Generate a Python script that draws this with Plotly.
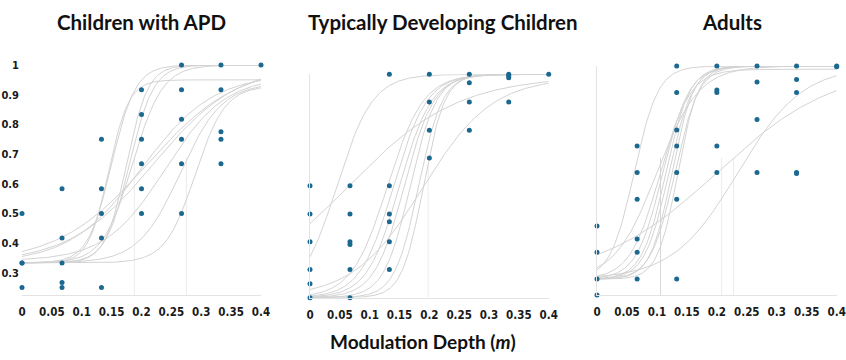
import numpy as np
import plotly.graph_objects as go

# ---------------- data ----------------
panel_titles = ["Children with APD", "Typically Developing Children", "Adults"]
x_tick_vals = [0, 0.05, 0.1, 0.15, 0.2, 0.25, 0.3, 0.35, 0.4]
x_tick_text = ["0", "0.05", "0.1", "0.15", "0.2", "0.25", "0.3", "0.35", "0.4"]
y_tick_vals = [0.3, 0.4, 0.5, 0.6, 0.7, 0.8, 0.9, 1.0]
y_tick_text = ["0.3", "0.4", "0.5", "0.6", "0.7", "0.8", "0.9", "1"]

# Panel 1: Children with APD - observed points
apd_x = [0, 0, 0, 0, 0,
         0.067, 0.067, 0.067, 0.067, 0.067,
         0.133, 0.133, 0.133, 0.133, 0.133,
         0.2, 0.2, 0.2, 0.2, 0.2, 0.2,
         0.267, 0.267, 0.267, 0.267, 0.267, 0.267,
         0.333, 0.333, 0.333, 0.333, 0.333,
         0.4]
apd_y = [0.5, 0.333, 0.25, 0.222, 0.333,
         0.583, 0.417, 0.333, 0.267, 0.25,
         0.75, 0.583, 0.5, 0.417, 0.25,
         0.917, 0.833, 0.75, 0.667, 0.583, 0.5,
         1.0, 0.917, 0.817, 0.75, 0.667, 0.5,
         1.0, 0.917, 0.775, 0.75, 0.667,
         1.0]
# fitted psychometric functions (lower, upper, midpoint, spread)
apd_low = [0.333, 0.333, 0.333, 0.333, 0.333, 0.333, 0.333, 0.333, 0.333, 0.333, 0.34]
apd_high = [0.95, 1.0, 1.0, 1.0, 1.0, 1.0, 1.0, 0.97, 0.94, 0.93, 0.96]
apd_mid = [0.145, 0.15, 0.175, 0.18, 0.185, 0.21, 0.22, 0.2, 0.265, 0.29, 0.24]
apd_spread = [0.017, 0.02, 0.018, 0.02, 0.025, 0.075, 0.07, 0.06, 0.035, 0.025, 0.05]
apd_markers = [0.188, 0.275]

# Panel 2: Typically developing children
td_x = [0, 0, 0, 0, 0, 0,
        0.067, 0.067, 0.067, 0.067, 0.067, 0.067,
        0.133, 0.133, 0.133, 0.133, 0.133, 0.133,
        0.2, 0.2, 0.2, 0.2,
        0.267, 0.267, 0.267, 0.267,
        0.333, 0.333, 0.333, 0.333,
        0.4]
td_y = [0.667, 0.583, 0.5, 0.417, 0.375, 0.333,
        0.667, 0.583, 0.5, 0.492, 0.417, 0.333,
        1.0, 0.667, 0.583, 0.56, 0.5, 0.417,
        1.0, 0.917, 0.833, 0.75,
        1.0, 0.975, 0.917, 0.833,
        1.0, 0.995, 0.99, 0.917,
        1.0]
td_low = [0.333, 0.333, 0.333, 0.333, 0.333, 0.333, 0.333, 0.333, 0.333, 0.333]
td_high = [1.0, 0.995, 0.99, 1.0, 1.0, 1.0, 1.0, 1.0, 1.0, 1.0]
td_mid = [0.045, 0.0635, 0.189, 0.13, 0.14, 0.15, 0.158, 0.168, 0.182, 0.19]
td_spread = [0.03, 0.092, 0.058, 0.03, 0.028, 0.027, 0.025, 0.022, 0.02, 0.018]
td_markers = [0.198]

# Panel 3: Adults
ad_x = [0, 0, 0, 0,
        0.067, 0.067, 0.067, 0.067, 0.067, 0.067,
        0.133, 0.133, 0.133, 0.133, 0.133, 0.133, 0.133,
        0.2, 0.2, 0.2, 0.2, 0.2,
        0.267, 0.267, 0.267, 0.267,
        0.333, 0.333, 0.333, 0.333, 0.333,
        0.4, 0.4]
ad_y = [0.5, 0.418, 0.334, 0.284,
        0.75, 0.667, 0.583, 0.459, 0.418, 0.334,
        1.0, 0.917, 0.8, 0.75, 0.667, 0.583, 0.334,
        1.0, 0.925, 0.917, 0.75, 0.667,
        1.0, 0.95, 0.833, 0.667,
        1.0, 0.958, 0.917, 0.667, 0.664,
        1.0, 0.998]
ad_low = [0.333, 0.333, 0.333, 0.333, 0.333, 0.333, 0.333, 0.333, 0.333, 0.333, 0.333]
ad_high = [1.0, 1.0, 1.0, 1.0, 0.99, 1.0, 1.0, 1.0, 1.0, 1.0, 1.0]
ad_mid = [0.062, 0.2, 0.235, 0.1, 0.105, 0.11, 0.115, 0.12, 0.125, 0.13, 0.135]
ad_spread = [0.02, 0.098, 0.054, 0.035, 0.025, 0.022, 0.02, 0.02, 0.018, 0.02, 0.017]
ad_markers = [0.106, 0.208, 0.228]

# ---------------- figure ----------------
W, H = 846, 360
panels = [
    dict(x=apd_x, y=apd_y, low=apd_low, high=apd_high, mid=apd_mid, spread=apd_spread,
         vlines=apd_markers, px=(22, 261), py=(65, 295), yr=(0.225, 1.0), ylab=True, left_line=False),
    dict(x=td_x, y=td_y, low=td_low, high=td_high, mid=td_mid, spread=td_spread,
         vlines=td_markers, px=(310, 548.7), py=(74.3, 297.7), yr=(0.333, 1.0), ylab=False, left_line=True),
    dict(x=ad_x, y=ad_y, low=ad_low, high=ad_high, mid=ad_mid, spread=ad_spread,
         vlines=ad_markers, px=(597, 836.7), py=(66, 295), yr=(0.284, 1.0), ylab=False, left_line=True),
]

fig = go.Figure()
xs = np.linspace(0, 0.4, 200)
curve_color = "#d3d3d3"
point_color = "#1b6891"
tick_font = dict(family="Liberation Sans Narrow, DejaVu Sans Condensed, Roboto Condensed, Roboto, sans-serif",
                 size=11.5, color="#1a1a1a", weight="bold")

layout = {}
for i, p in enumerate(panels):
    n = "" if i == 0 else str(i + 1)
    xa, ya = "x" + n, "y" + n
    for lo, hi, m, s in zip(p["low"], p["high"], p["mid"], p["spread"]):
        ys = lo + (hi - lo) / (1 + np.exp(-(xs - m) / s))
        fig.add_trace(go.Scatter(x=xs, y=ys, mode="lines", xaxis=xa, yaxis=ya,
                                 line=dict(color=curve_color, width=1), hoverinfo="skip",
                                 showlegend=False, cliponaxis=False))
    fig.add_trace(go.Scatter(x=p["x"], y=p["y"], mode="markers", xaxis=xa, yaxis=ya,
                             marker=dict(color=point_color, size=5), showlegend=False,
                             cliponaxis=False))
    for v in p["vlines"]:
        fig.add_shape(type="line", xref=xa, yref=ya, x0=v, x1=v,
                      y0=p["yr"][0], y1=p["yr"][0] + 0.6 * (p["yr"][1] - p["yr"][0]),
                      line=dict(color="#ececec" if v != 0.106 else "#d8d8d8", width=1), layer="below")
    layout["xaxis" + n] = dict(
        domain=[p["px"][0] / W, p["px"][1] / W], range=[0, 0.4], anchor=ya,
        tickvals=x_tick_vals, ticktext=x_tick_text, tickfont=tick_font,
        showgrid=False, zeroline=False, showline=True, linecolor="#e3e3e3", linewidth=1,
        ticks="", ticklabelstandoff=6, ticklabeloverflow="allow", fixedrange=True, automargin=False)
    layout["yaxis" + n] = dict(
        domain=[1 - p["py"][1] / H, 1 - p["py"][0] / H], range=list(p["yr"]), anchor=xa,
        tickvals=y_tick_vals if p["ylab"] else [], ticktext=y_tick_text if p["ylab"] else [],
        showticklabels=p["ylab"], tickfont=dict(tick_font, size=11),
        showgrid=False, zeroline=False, showline=p["left_line"], linecolor="#e3e3e3", linewidth=1,
        ticks="", ticklabelstandoff=2, ticklabeloverflow="allow", fixedrange=True, automargin=False)

title_font = dict(family="Lato, Open Sans, sans-serif", size=20.5, color="#111111")
title_centers = [141, 443, 732]
annotations = []
for t, cx in zip(panel_titles, title_centers):
    annotations.append(dict(text="<b>" + t + "</b>", x=cx / W, y=1 - 22 / H, xref="paper", yref="paper",
                            showarrow=False, font=title_font, xanchor="center", yanchor="middle"))
annotations.append(dict(text="<b>Modulation Depth (<i>m</i>)</b>", x=423 / W, y=1 - 341 / H,
                        xref="paper", yref="paper", showarrow=False,
                        font=dict(title_font, size=19), xanchor="center", yanchor="middle"))

fig.update_layout(width=W, height=H, margin=dict(l=0, r=0, t=0, b=0, pad=0),
                  paper_bgcolor="white", plot_bgcolor="white",
                  annotations=annotations, **layout)

fig.write_html("out.html")
